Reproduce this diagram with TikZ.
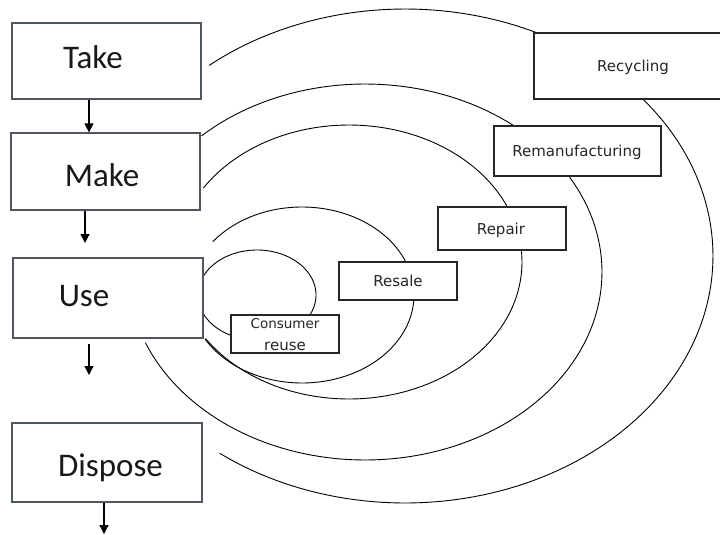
\documentclass[tikz,border=0pt]{standalone}
\usepackage{fontspec}
\setmainfont{Carlito}
\newfontfamily\lblfont{DejaVu Sans}
\usetikzlibrary{arrows.meta}
\definecolor{stagecol}{HTML}{50565E}
\begin{document}
\begin{tikzpicture}[x=1pt,y=-1pt,
  stage/.style={draw=stagecol, line width=1.2pt, fill=white, inner sep=0pt},
  lbl/.style={draw=black!85, line width=1.1pt, fill=white, inner sep=0pt},
  big/.style={font=\fontsize{33}{38}\selectfont, inner sep=0pt, anchor=base, text=black!90},
  small/.style={font=\lblfont\fontsize{15}{18}\selectfont, inner sep=0pt, anchor=base, text=black!85},
  loopline/.style={draw=black, line width=0.9pt},
  arr/.style={-{Triangle[width=9pt,length=9pt]}, line width=1.2pt}
]
\useasboundingbox (0,0) rectangle (720,535);
\fill[white] (0,0) rectangle (720,535);

% loops
\draw[loopline] plot[domain=-129.5:127, samples=150, variable=\t] ({405+308*cos(\t)},{256+247*sin(\t)});
\draw[loopline] plot[domain=-133.6:157.9, samples=150, variable=\t] ({365+237*cos(\t)},{272+188*sin(\t)});
\draw[loopline] plot[domain=-147.4:146, samples=150, variable=\t] ({349+173*cos(\t)},{262+137*sin(\t)});
\draw[loopline] plot[domain=-142.7:150, samples=120, variable=\t] ({302+112*cos(\t)},{295+88*sin(\t)});
\draw[loopline] plot[domain=0:360, samples=120, variable=\t] ({257+59*cos(\t)},{295+45*sin(\t)});

% stage boxes
\node[stage, minimum width=189pt, minimum height=76pt] (take) at (106.5,61) {};
\node[stage, minimum width=189pt, minimum height=77pt] (make) at (105.5,171.5) {};
\node[stage, minimum width=190pt, minimum height=80pt] (use) at (108,298) {};
\node[stage, minimum width=190pt, minimum height=79pt] (dispose) at (107,462.5) {};

\node[big] (taket) at (93,68) {Take};
\node[big] (maket) at (102,186) {Make};
\node[big] (uset) at (84,306) {Use};
\node[big] (disposet) at (110.5,476) {Dispose};

% loop labels
\node[lbl, minimum width=191pt, minimum height=66pt] (recycling) at (629.5,66) {};
\node[lbl, minimum width=167pt, minimum height=50pt] (reman) at (577.5,151) {};
\node[lbl, minimum width=128pt, minimum height=43pt] (repair) at (502,228.5) {};
\node[lbl, minimum width=118pt, minimum height=38pt] (resale) at (398,281) {};
\node[lbl, minimum width=108pt, minimum height=38pt] (consumer) at (285,334) {};

\node[small] (recyclingt) at (633,72) {Recycling};
\node[small] (remant) at (577,156) {Remanufacturing};
\node[small] (repairt) at (501,234) {Repair};
\node[small] (resalet) at (398,286) {Resale};
\node[small, font=\lblfont\fontsize{13.5}{16}\selectfont] (consumert) at (285,328) {Consumer};
\node[small] (reuset) at (285,350) {reuse};

% arrows
\coordinate (a1) at (89,0);
\draw[arr] (take.south -| a1) -- (make.north -| a1);
\coordinate (a2) at (85,243);
\draw[arr] (make.south -| a2) -- (a2);
\coordinate (a3s) at (89,344);
\coordinate (a3e) at (89,375);
\draw[arr] (a3s) -- (a3e);
\coordinate (a4) at (104,534);
\draw[arr] (dispose.south -| a4) -- (a4);
\end{tikzpicture}
\end{document}
